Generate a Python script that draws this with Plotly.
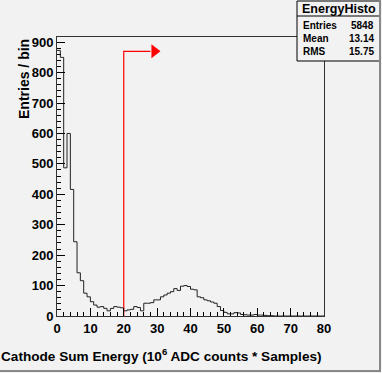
import plotly.graph_objects as go

# histogram contents, 1 unit bins from 0 to 80
bin_edges = list(range(0, 81))
counts = [873, 850, 487, 600, 416, 244, 142, 116, 75, 63,
          47, 36, 29, 31, 25, 17, 25, 31, 29, 27,
          17, 20, 22, 31, 28, 17, 42, 42, 44, 53,
          53, 63, 69, 75, 80, 90, 84, 98, 100, 97,
          88, 86, 63, 60, 53, 50, 46, 42, 31, 18,
          12, 7, 7, 11, 10, 5, 4, 3, 3, 5,
          3, 3, 2, 1, 1, 0, 0, 0, 0, 0,
          0, 0, 0, 0, 0, 0, 0, 0, 0, 0]

cut_x = 20
arrow_y = 870
arrow_end = 28
arrow_tip = 29.2

stats_title = "EnergyHisto"
stats_names = ["Entries", "Mean", "RMS"]
stats_values = ["5848", "13.14", "15.75"]

W, H = 382, 373
L, R, T, B = 57, 324, 37, 316
bg = "#f2f2f2"
font = "Liberation Sans"


def px(x):
    return (x - L) / (R - L)


def py(y):
    return (B - y) / (B - T)


fig = go.Figure()

fig.add_trace(go.Scatter(
    x=bin_edges,
    y=counts + [counts[-1]],
    mode="lines",
    line=dict(shape="hv", color="#222222", width=1),
    hoverinfo="skip"))

fig.add_trace(go.Scatter(
    x=[cut_x, cut_x, arrow_end],
    y=[0, arrow_y, arrow_y],
    mode="lines",
    line=dict(color="#ff0000", width=1.2),
    hoverinfo="skip"))

fig.add_trace(go.Scatter(
    x=[arrow_tip], y=[arrow_y],
    mode="markers",
    marker=dict(symbol="triangle-right", size=12, color="#ff0000"),
    hoverinfo="skip"))

axis_common = dict(
    showgrid=False, zeroline=False,
    showline=True, mirror=True, linecolor="#333333", linewidth=1,
    ticks="inside", ticklen=8, tickcolor="black",
    tickfont=dict(family=font, size=13, color="black", weight="bold"),
)

fig.update_xaxes(range=[0, 80], dtick=10, tick0=0,
                 minor=dict(ticks="inside", ticklen=4, dtick=2, tickcolor="black"),
                 **axis_common)
fig.update_yaxes(range=[0, 917], dtick=100, tick0=0,
                 minor=dict(ticks="inside", ticklen=4, dtick=20, tickcolor="black"),
                 **axis_common)

shapes = [
    # stats box
    dict(type="rect", xref="paper", yref="paper",
         x0=px(297), x1=px(380), y0=py(61), y1=py(1),
         line=dict(color="black", width=1), fillcolor=bg, layer="above"),
    dict(type="line", xref="paper", yref="paper",
         x0=px(297), x1=px(380), y0=py(16), y1=py(16),
         line=dict(color="black", width=1)),
    # canvas bevel
    dict(type="line", xref="paper", yref="paper",
         x0=px(0), x1=px(381), y0=py(371), y1=py(371),
         line=dict(color="#888888", width=2)),
    dict(type="line", xref="paper", yref="paper",
         x0=px(380), x1=px(380), y0=py(0), y1=py(372),
         line=dict(color="#888888", width=2)),
]

annotations = [
    dict(text=stats_title, xref="paper", yref="paper",
         x=px(338.5), y=py(8.5), xanchor="center", yanchor="middle",
         showarrow=False, font=dict(family=font, size=12.5, color="black", weight="bold")),
    dict(text="Entries / bin", xref="paper", yref="paper",
         x=0, y=1, xshift=-43, xanchor="left", yanchor="top", textangle=-90,
         showarrow=False, font=dict(family=font, size=14, color="black", weight="bold")),
    dict(text="Cathode Sum Energy (10<sup>6</sup> ADC counts * Samples)",
         xref="paper", yref="paper", x=1, y=0, yshift=-28,
         xanchor="right", yanchor="top",
         showarrow=False, font=dict(family=font, size=13.6, color="black", weight="bold")),
]
for i, (name, val) in enumerate(zip(stats_names, stats_values)):
    yy = py(25 + 13.5 * i)
    annotations.append(dict(text=name, xref="paper", yref="paper", x=px(301), y=yy,
                            xanchor="left", yanchor="middle", showarrow=False,
                            font=dict(family=font, size=10, color="black", weight="bold")))
    annotations.append(dict(text=val, xref="paper", yref="paper", x=px(376), y=yy,
                            xanchor="right", yanchor="middle", showarrow=False,
                            font=dict(family=font, size=10, color="black", weight="bold")))

fig.update_layout(
    width=W, height=H,
    margin=dict(l=L, r=W - R, t=T, b=H - B, autoexpand=False),
    paper_bgcolor=bg, plot_bgcolor=bg,
    showlegend=False,
    shapes=shapes,
    annotations=annotations,
)

fig.write_html("out.html", config={"displayModeBar": False},
               post_script="document.body.style.margin='0';")
